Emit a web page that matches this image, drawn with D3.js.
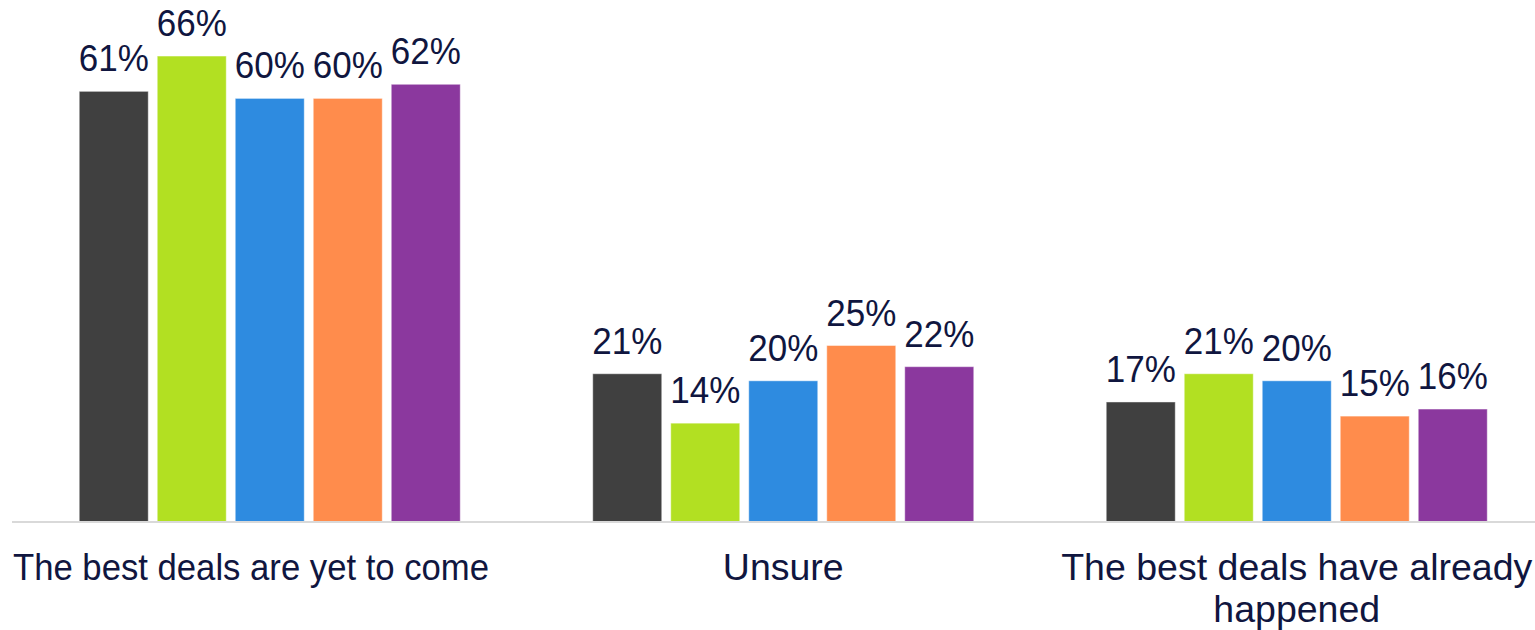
<!DOCTYPE html>
<html>
<head>
<meta charset="utf-8">
<script src="https://cdn.jsdelivr.net/npm/d3@7/dist/d3.min.js"></script>
<style>
  html, body { margin: 0; padding: 0; background: #ffffff; overflow: hidden; }
  svg { display: block; font-family: "Liberation Sans", Arial, sans-serif; }
</style>
</head>
<body>
<svg id="chart" width="1535" height="630"></svg>
<script>
// Answer groups along the x axis
const categories = ["The best deals are yet to come", "Unsure", "The best deals have already happened"];
// Respondent segments, one bar each within a group
const segments = ["Segment 1", "Segment 2", "Segment 3", "Segment 4", "Segment 5"];
// Percent share per segment, ordered as in categories
const segment1 = [61, 21, 17];
const segment2 = [66, 14, 21];
const segment3 = [60, 20, 20];
const segment4 = [60, 25, 15];
const segment5 = [62, 22, 16];
const segmentColors = ["#404040", "#b2e022", "#2e8be0", "#ff8c4c", "#8b389e"];

const seriesValues = [segment1, segment2, segment3, segment4, segment5];

const svg = d3.select("#chart");
const baseY = 522;
const textColor = "#10163f";

const x0 = d3.scaleBand()
  .domain(categories)
  .range([13, 1553.5])
  .paddingInner(0.258)
  .paddingOuter(0.129);

const x1 = d3.scaleBand()
  .domain(segments)
  .range([0, x0.bandwidth()])
  .paddingInner(9 / 78)
  .paddingOuter(0);

const y = d3.scaleLinear()
  .domain([0, 70])
  .range([baseY, baseY - 70 * 7.06]);

const color = d3.scaleOrdinal().domain(segments).range(segmentColors);

const rows = categories.map((c, ci) => ({
  category: c,
  values: segments.map((s, si) => ({ segment: s, value: seriesValues[si][ci] }))
}));

const groups = svg.append("g")
  .selectAll("g.group")
  .data(rows)
  .join("g")
  .attr("class", "group")
  .attr("transform", d => `translate(${x0(d.category)},0)`);

groups.selectAll("rect")
  .data(d => d.values)
  .join("rect")
  .attr("x", d => x1(d.segment))
  .attr("y", d => y(d.value))
  .attr("width", x1.bandwidth())
  .attr("height", d => y(0) - y(d.value))
  .attr("fill", d => color(d.segment))
  .attr("stroke", "rgba(255,255,255,0.45)")
  .attr("stroke-width", 1);

// Value labels above each bar
groups.selectAll("text.value")
  .data(d => d.values)
  .join("text")
  .attr("class", "value")
  .attr("transform", d => `translate(${x1(d.segment) + x1.bandwidth() / 2},${y(d.value) - 20}) scale(1,1.07)`)
  .attr("text-anchor", "middle")
  .attr("fill", textColor)
  .style("font-size", "35px")
  .text(d => d.value + "%");

// Category axis along the baseline
const axis = svg.append("g")
  .attr("transform", `translate(0,${baseY})`)
  .call(d3.axisBottom(x0).tickSize(0).tickPadding(0));

axis.select(".domain")
  .attr("stroke", "#d9d9d9")
  .attr("stroke-width", 2)
  .attr("d", "M12,0H1535");

const wrapWidth = 520;   // lines longer than this break onto a new line
const fitWidth = 476;    // single lines wider than this are condensed to fit
const halfStep = x0.step() / 2;

axis.selectAll(".tick text")
  .attr("fill", textColor)
  .style("font-size", "37.5px")
  .style("font-family", "'Liberation Sans', Arial, sans-serif")
  .attr("dy", null)
  .attr("y", null)
  .each(function (label) {
    const t = d3.select(this);
    const words = label.split(" ");
    const lines = [];
    let line = [];
    t.text(null);
    const probe = t.append("tspan");
    words.forEach(w => {
      line.push(w);
      probe.text(line.join(" "));
      if (probe.node().getComputedTextLength() > wrapWidth && line.length > 1) {
        line.pop();
        lines.push(line.join(" "));
        line = [w];
      }
    });
    lines.push(line.join(" "));
    probe.remove();
    t.attr("transform", "translate(0,58)");
    lines.forEach((ln, i) => {
      const span = t.append("tspan").attr("x", 0).attr("y", i * 42).text(ln);
      const w = span.node().getComputedTextLength();
      if (w > fitWidth) {
        // condensed line sits flush with the start of its band
        span.attr("x", -halfStep)
          .attr("text-anchor", "start")
          .attr("textLength", fitWidth)
          .attr("lengthAdjust", "spacingAndGlyphs");
      }
    });
  });
</script>
</body>
</html>
